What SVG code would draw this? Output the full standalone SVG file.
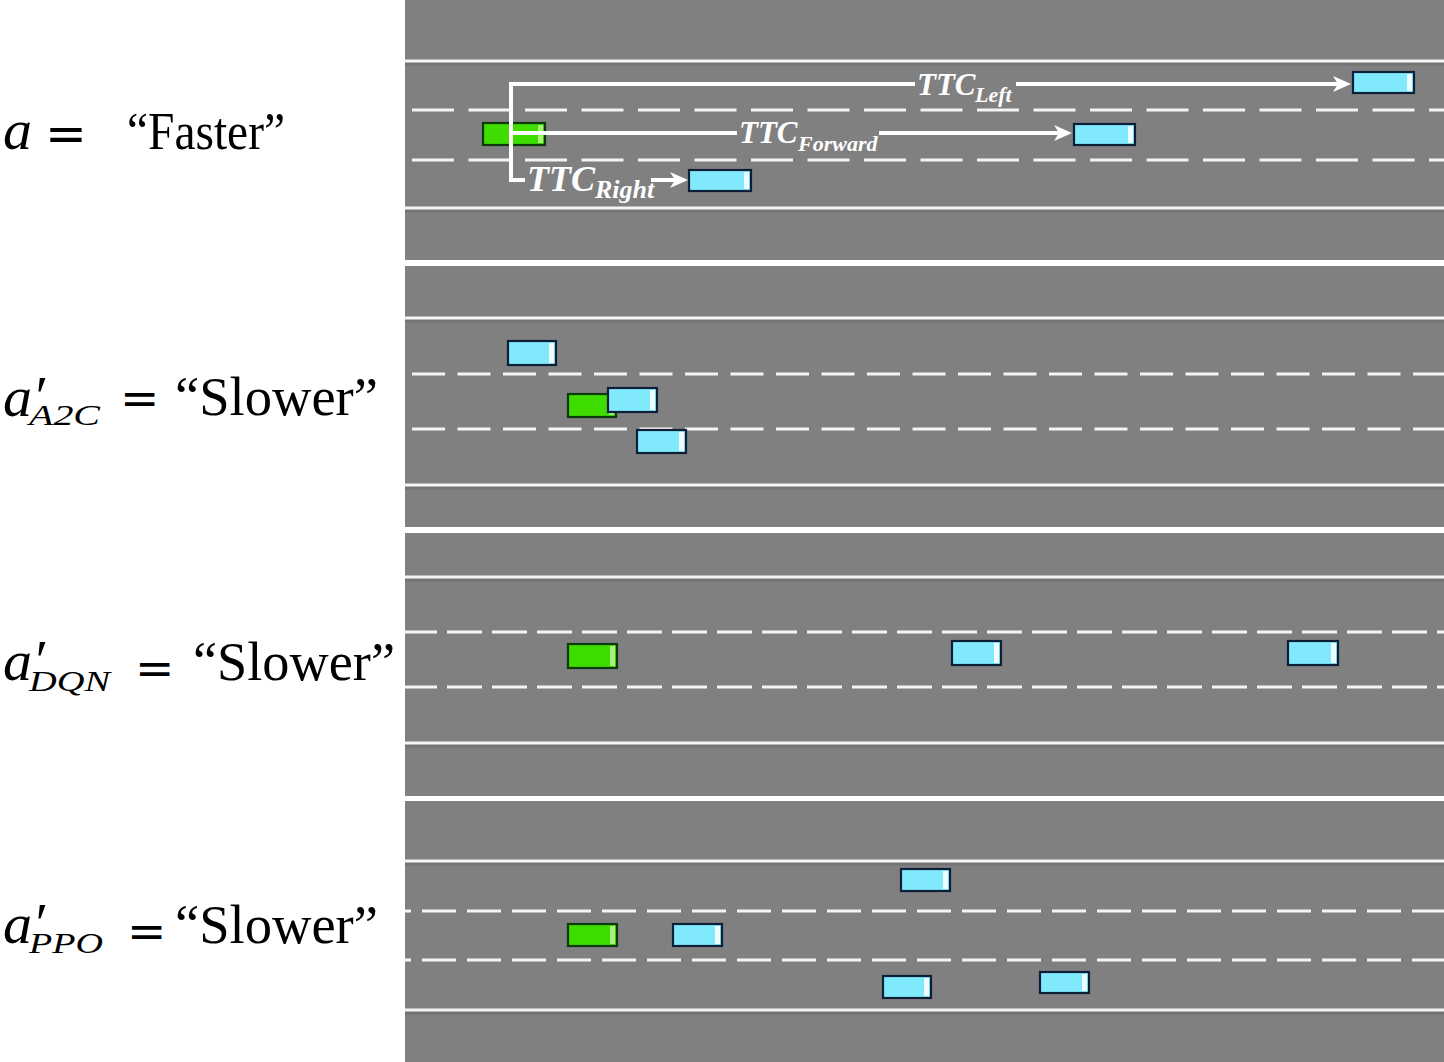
<svg xmlns="http://www.w3.org/2000/svg" width="1444" height="1062" viewBox="0 0 1444 1062">
<style>
.bg{fill:#808080}
.solid{stroke:#f4f4f4;stroke-width:3}
.shad{stroke:#6a6a6a;stroke-width:3;opacity:.55}
.dash{stroke:#f4f4f4;stroke-width:3}
.carB{fill:#80eafc;stroke:#0c1e38;stroke-width:2.2}
.carG{fill:#3fdc00;stroke:#0d3a0d;stroke-width:2.2}
.hlB{fill:#eefdff}
.hlG{fill:#a8f080}
.conn{stroke:#fff;stroke-width:4;fill:none}
.ttc{font-family:"Liberation Serif","Times New Roman",serif;font-style:italic;font-weight:bold;fill:#fff}
.mi{font-family:"Liberation Serif","Times New Roman",serif;font-style:italic;fill:#000}
.rm{font-family:"Liberation Serif","Times New Roman",serif;fill:#000}
.eq{font-family:"DejaVu Sans",sans-serif;fill:#000}
</style>
<defs>
<marker id="ah" markerUnits="userSpaceOnUse" markerWidth="20" markerHeight="18" refX="6" refY="8" orient="auto">
<path d="M0,0 L18,8 L0,16 L5,8 z" fill="#fff"/>
</marker>
</defs>
<rect width="1444" height="1062" fill="#fff"/>

<g id="road1">
<rect class="bg" x="405" y="0" width="1039" height="260"/>
<line class="shad" x1="405" y1="64" x2="1444" y2="64"/>
<line class="shad" x1="405" y1="211" x2="1444" y2="211"/>
<line class="solid" x1="405" y1="61" x2="1444" y2="61"/>
<line class="solid" x1="405" y1="208" x2="1444" y2="208"/>
<line class="dash" x1="405" y1="110" x2="1444" y2="110" stroke-dasharray="42 14.5" stroke-dashoffset="49.5"/>
<line class="dash" x1="405" y1="160" x2="1444" y2="160" stroke-dasharray="42 14.5" stroke-dashoffset="49.5"/>
</g>
<g id="road2">
<rect class="bg" x="405" y="266" width="1039" height="261"/>
<line class="shad" x1="405" y1="321" x2="1444" y2="321"/>
<line class="shad" x1="405" y1="488" x2="1444" y2="488"/>
<line class="solid" x1="405" y1="318" x2="1444" y2="318"/>
<line class="solid" x1="405" y1="485" x2="1444" y2="485"/>
<line class="dash" x1="405" y1="374" x2="1444" y2="374" stroke-dasharray="33 12.5" stroke-dashoffset="38.5"/>
<line class="dash" x1="405" y1="429" x2="1444" y2="429" stroke-dasharray="33 12.5" stroke-dashoffset="38.5"/>
</g>
<g id="road3">
<rect class="bg" x="405" y="533" width="1039" height="263"/>
<line class="shad" x1="405" y1="580" x2="1444" y2="580"/>
<line class="shad" x1="405" y1="746" x2="1444" y2="746"/>
<line class="solid" x1="405" y1="577" x2="1444" y2="577"/>
<line class="solid" x1="405" y1="743" x2="1444" y2="743"/>
<line class="dash" x1="405" y1="632" x2="1444" y2="632" stroke-dasharray="35 10" stroke-dashoffset="3"/>
<line class="dash" x1="405" y1="687" x2="1444" y2="687" stroke-dasharray="35 10" stroke-dashoffset="3"/>
</g>
<g id="road4">
<rect class="bg" x="405" y="801" width="1039" height="261"/>
<line class="shad" x1="405" y1="864" x2="1444" y2="864"/>
<line class="shad" x1="405" y1="1013" x2="1444" y2="1013"/>
<line class="solid" x1="405" y1="861" x2="1444" y2="861"/>
<line class="solid" x1="405" y1="1010" x2="1444" y2="1010"/>
<line class="dash" x1="405" y1="911" x2="1444" y2="911" stroke-dasharray="34 11" stroke-dashoffset="28"/>
<line class="dash" x1="405" y1="960" x2="1444" y2="960" stroke-dasharray="34 11" stroke-dashoffset="28"/>
</g>

<!-- panel 1 cars -->
<g id="p1-ego"><rect class="carG" x="483" y="123" width="62" height="22"/><rect class="hlG" x="538" y="125" width="5" height="18"/></g>
<g id="p1-right"><rect class="carB" x="689" y="170" width="62" height="21"/><rect class="hlB" x="744" y="172" width="5" height="17"/></g>
<g id="p1-fwd"><rect class="carB" x="1074" y="124" width="61" height="21"/><rect class="hlB" x="1128" y="126" width="5" height="17"/></g>
<g id="p1-left"><rect class="carB" x="1353" y="72" width="61" height="21"/><rect class="hlB" x="1407" y="74" width="5" height="17"/></g>

<!-- panel 2 cars -->
<g id="p2-c1"><rect class="carB" x="508" y="341" width="48" height="24"/><rect class="hlB" x="549" y="343" width="5" height="20"/></g>
<g id="p2-ego"><rect class="carG" x="568" y="394" width="48" height="23"/><rect class="hlG" x="609" y="396" width="5" height="19"/></g>
<g id="p2-c2"><rect class="carB" x="608" y="388" width="49" height="24"/><rect class="hlB" x="650" y="390" width="5" height="20"/></g>
<g id="p2-c3"><rect class="carB" x="637" y="430" width="49" height="23"/><rect class="hlB" x="679" y="432" width="5" height="19"/></g>

<!-- panel 3 cars -->
<g id="p3-ego"><rect class="carG" x="568" y="644" width="49" height="24"/><rect class="hlG" x="610" y="646" width="5" height="20"/></g>
<g id="p3-c1"><rect class="carB" x="952" y="641" width="49" height="24"/><rect class="hlB" x="994" y="643" width="5" height="20"/></g>
<g id="p3-c2"><rect class="carB" x="1288" y="641" width="50" height="24"/><rect class="hlB" x="1331" y="643" width="5" height="20"/></g>

<!-- panel 4 cars -->
<g id="p4-ego"><rect class="carG" x="568" y="924" width="49" height="22"/><rect class="hlG" x="610" y="926" width="5" height="18"/></g>
<g id="p4-c1"><rect class="carB" x="673" y="924" width="49" height="22"/><rect class="hlB" x="715" y="926" width="5" height="18"/></g>
<g id="p4-c2"><rect class="carB" x="901" y="869" width="49" height="22"/><rect class="hlB" x="943" y="871" width="5" height="18"/></g>
<g id="p4-c3"><rect class="carB" x="883" y="976" width="48" height="22"/><rect class="hlB" x="924" y="978" width="5" height="18"/></g>
<g id="p4-c4"><rect class="carB" x="1040" y="972" width="49" height="21"/><rect class="hlB" x="1082" y="974" width="5" height="17"/></g>

<g id="connectors">
<path class="conn" d="M511,182 L511,84 L915,84"/>
<line class="conn" x1="1016" y1="84" x2="1339" y2="84" marker-end="url(#ah)"/>
<line class="conn" x1="511" y1="133" x2="737" y2="133"/>
<line class="conn" x1="879" y1="133" x2="1060" y2="133" marker-end="url(#ah)"/>
<line class="conn" x1="509" y1="180" x2="525" y2="180"/>
<line class="conn" x1="651" y1="180" x2="676" y2="180" marker-end="url(#ah)"/>
</g>
<g id="ttc-labels">
<text class="ttc" x="917" y="95" font-size="31">TTC<tspan font-size="22" x="975" y="102">Left</tspan></text>
<text class="ttc" x="739" y="143" font-size="31">TTC<tspan font-size="22" x="798" y="151">Forward</tspan></text>
<text class="ttc" x="527" y="191" font-size="36">TTC<tspan font-size="26" x="595" y="198">Right</tspan></text>
</g>

<g id="label1">
<text class="mi" x="3" y="149" font-size="58">a</text>
<text class="eq" x="45" y="151" font-size="50">=</text>
<text class="rm" x="127" y="149" font-size="52" textLength="158" lengthAdjust="spacingAndGlyphs">“Faster”</text>
</g>
<g id="label2">
<text class="mi" x="3" y="416" font-size="58">a<tspan x="32" y="416">′</tspan><tspan x="29" y="425" font-size="30" textLength="71" lengthAdjust="spacingAndGlyphs">A2C</tspan></text>
<text class="eq" x="120" y="414" font-size="47">=</text>
<text class="rm" x="175" y="415" font-size="54" textLength="203" lengthAdjust="spacingAndGlyphs">“Slower”</text>
</g>
<g id="label3">
<text class="mi" x="3" y="680" font-size="58">a<tspan x="32" y="680">′</tspan><tspan x="29" y="691" font-size="30" textLength="81" lengthAdjust="spacingAndGlyphs">DQN</tspan></text>
<text class="eq" x="135" y="684" font-size="47">=</text>
<text class="rm" x="193" y="680" font-size="54" textLength="202" lengthAdjust="spacingAndGlyphs">“Slower”</text>
</g>
<g id="label4">
<text class="mi" x="3" y="943" font-size="58">a<tspan x="32" y="943">′</tspan><tspan x="29" y="953" font-size="30" textLength="74" lengthAdjust="spacingAndGlyphs">PPO</tspan></text>
<text class="eq" x="127" y="947" font-size="47">=</text>
<text class="rm" x="175" y="943" font-size="54" textLength="203" lengthAdjust="spacingAndGlyphs">“Slower”</text>
</g>
</svg>
